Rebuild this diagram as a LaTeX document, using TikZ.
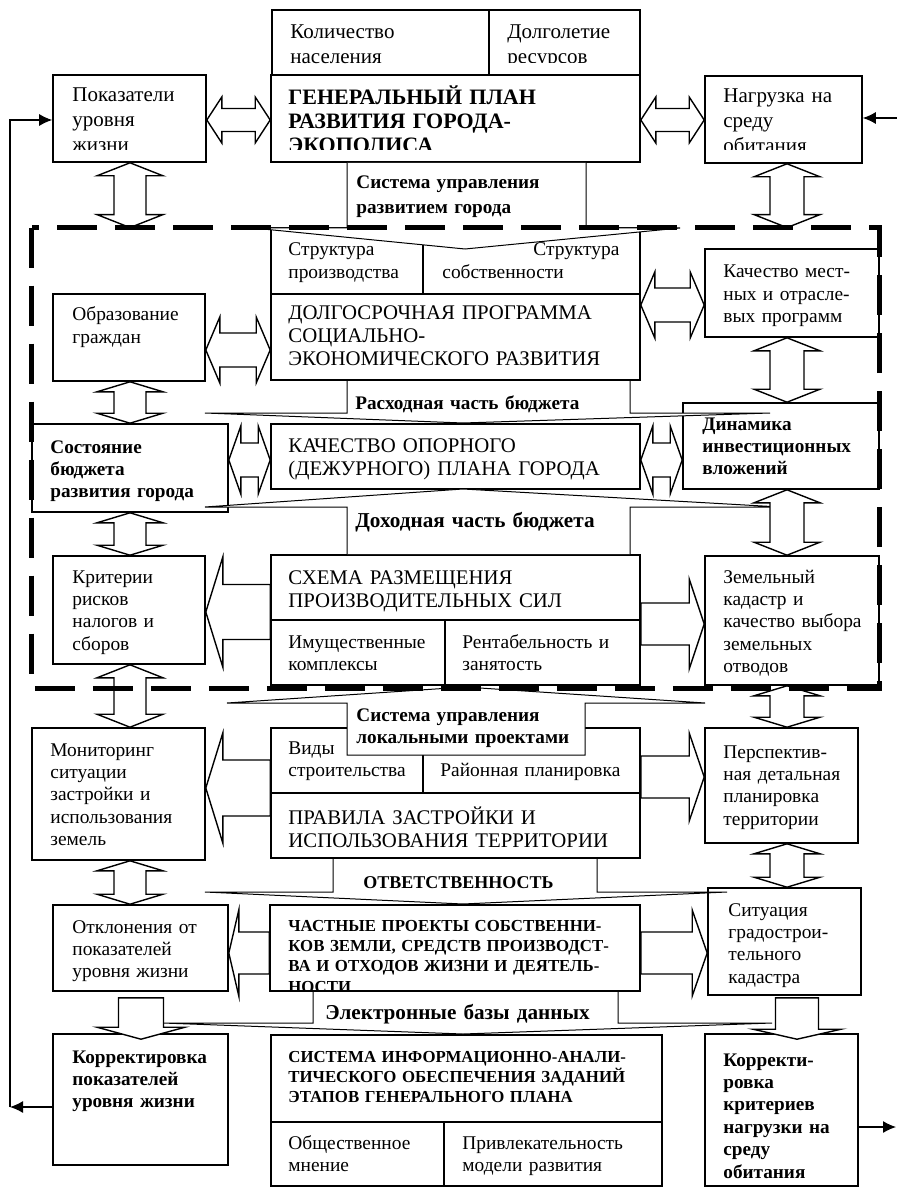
\documentclass[tikz,border=0pt]{standalone}
\usepackage{fontspec}
\setmainfont{Liberation Serif}
\usetikzlibrary{%
    calc,%
    fit,%
    arrows.meta%
}

\tikzset{
	box/.style={draw, line width=0.8pt, inner sep=0pt},
	frm/.style={draw, line width=2.4pt, dash pattern=on 20pt off 9pt},
	blk/.style={draw, fill=white, line width=0.7pt},
	fun/.style={draw, fill=white, line width=0.5pt},
	txt/.style={anchor=base west, inner sep=0pt, text width=190pt, align=left, font=\fontsize{9.7}{11.2}\selectfont},
	txtw/.style={txt, font=\fontsize{10.5}{12.4}\selectfont},
	ctxt/.style={txt, font=\fontsize{10.4}{11.5}\selectfont},
	btxt/.style={txt, font=\fontsize{9.6}{11.2}\selectfont\bfseries},
	btxtw/.style={txt, font=\fontsize{9.6}{12.4}\selectfont\bfseries},
	stxt/.style={txt, font=\fontsize{8.4}{10.2}\selectfont\bfseries},
	fb/.style={line width=0.6pt, -{Latex[length=6.5pt,width=6pt]}}
}

% block arrows: #1 from, #2 to, #3 shaft half width, #4 head half width, #5 head length
\newcommand{\dblh}[5]{%
	\draw[blk] let \p1=#1, \p2=#2 in
		(\p1) -- ++(#5,-#4) -- ++(0,#4-#3) -- ($(\p2)+(-#5,-#3)$) -- ++(0,#3-#4)
		-- (\p2) -- ++(-#5,#4) -- ++(0,#3-#4) -- ($(\p1)+(#5,#3)$) -- ++(0,#4-#3) -- cycle;}
\newcommand{\dblv}[5]{%
	\draw[blk] let \p1=#1, \p2=#2 in
		(\p1) -- ++(#4,#5) -- ++(#3-#4,0) -- ($(\p2)+(#3,-#5)$) -- ++(#4-#3,0)
		-- (\p2) -- ++(-#4,-#5) -- ++(#4-#3,0) -- ($(\p1)+(-#3,#5)$) -- ++(#3-#4,0) -- cycle;}
\newcommand{\blkh}[5]{%
	\draw[blk] let \p1=#1, \p2=#2 in
		($(\p1)+(0,-#3)$) -- ($(\p2)+({-(#5)},-#3)$) -- ++(0,#3-#4) -- (\p2)
		-- ++({-(#5)},#4) -- ++(0,#3-#4) -- ($(\p1)+(0,#3)$) -- cycle;}
\newcommand{\blkv}[5]{%
	\draw[blk] let \p1=#1, \p2=#2 in
		($(\p1)+(-#3,0)$) -- ($(\p2)+(-#3,-#5)$) -- ++(#3-#4,0) -- (\p2)
		-- ++(#4,-#5) -- ++(#3-#4,0) -- ($(\p1)+(#3,0)$) -- cycle;}

\begin{document}
\begin{tikzpicture}[x=0.5pt, y=-0.5pt]

	\path[use as bounding box, fill=white] (0,0) rectangle (897,1187);
	\path node[inner sep=0pt, fit={(32,228) (879,688)}] (fr) {};

	% boxes
	\node[box, fit={(272,10) (489,75)}] (kol) {};
	\node[box, fit={(489,10) (640,75)}] (dolg) {};
	\node[box, fit={(271,75) (640,162)}] (gen) {};
	\node[box, fit={(53,75) (206,162)}] (pok) {};
	\node[box, fit={(705,76) (862,163)}] (nagr) {};
	\node[box, fit={(271,228) (423,294)}] (strp) {};
	\node[box, fit={(423,228) (640,294)}] (strs) {};
	\node[box, fit={(271,294) (640,380)}] (dolgo) {};
	\node[box, fit={(53,294) (205,381)}] (obr) {};
	\node[box, fit={(705,249) (879,337)}] (kachm) {};
	\node[box, fit={(32,424) (228,512)}] (sost) {};
	\node[box, fit={(271,424) (640,489)}] (kach) {};
	\node[box, fit={(683,403) (879,489)}] (din) {};
	\node[box, fit={(53,556) (205,664)}] (krit) {};
	\node[box, fit={(271,555) (640,620)}] (shema) {};
	\node[box, fit={(271,620) (445,685)}] (imu) {};
	\node[box, fit={(445,620) (640,685)}] (rent) {};
	\node[box, fit={(705,556) (879,685)}] (zem) {};
	\node[box, fit={(32,728) (205,860)}] (mon) {};
	\node[box, fit={(271,728) (423,793)}] (vidy) {};
	\node[box, fit={(423,728) (640,793)}] (raion) {};
	\node[box, fit={(271,793) (640,858)}] (prav) {};
	\node[box, fit={(705,728) (858,843)}] (persp) {};
	\node[box, fit={(53,905) (228,991)}] (otkl) {};
	\node[box, fit={(270,905) (640,991)}] (chast) {};
	\node[box, fit={(708,888) (861,995)}] (sit) {};
	\node[box, fit={(53,1034) (228,1165)}] (korl) {};
	\node[box, fit={(271,1035) (662,1122)}] (sist) {};
	\node[box, fit={(271,1122) (444,1186)}] (obsh) {};
	\node[box, fit={(444,1122) (662,1186)}] (priv) {};
	\node[box, fit={(705,1034) (858,1186)}] (korr) {};

	% flows down the middle column
	\draw[fun] (347,163) -- (347,228) -- (253,228) -- (465,249) -- (680,228) -- (586,228) -- (586,163);
	\draw[fun] (347,381) -- (347,413) -- (205,413) -- (463,423) -- (770,413) -- (630,413) -- (630,381);
	\draw[fun] (347,554) -- (347,507) -- (205,507) -- (463,489) -- (780,507) -- (630,507) -- (630,554);
	\draw[fun] (347,755) -- (347,703) -- (227,703) -- (465,687) -- (705,703) -- (585,703) -- (585,755) -- cycle;
	\draw[fun] (333,859) -- (333,892) -- (205,892) -- (463,904) -- (727,892) -- (597,892) -- (597,859);
	\draw[fun] (313,992) -- (313,1023) -- (163,1023) -- (463,1034) -- (772,1023) -- (618,1023) -- (618,992);

	% two-way links
	\dblh{(pok.east |- 0,120)}{(gen.west |- 0,120)}{11.5}{23}{15}
	\dblh{(gen.east |- 0,120)}{(nagr.west |- 0,120)}{11.5}{23}{15}
	\dblh{(obr.east |- 0,350)}{(dolgo.west |- 0,350)}{17}{33}{14}
	\dblh{(dolgo.east |- 0,305)}{(kachm.west |- 0,305)}{17}{33}{14}
	\dblh{(sost.east |- 0,460)}{(kach.west |- 0,460)}{17}{34}{12}
	\dblh{(kach.east |- 0,460)}{(din.west |- 0,460)}{17}{34}{12}
	\dblv{(pok.south -| 130,0)}{(fr.north -| 130,0)}{16}{33}{13}
	\dblv{(nagr.south -| 787,0)}{(fr.north -| 787,0)}{17}{33}{13}
	\dblv{(obr.south -| 130,0)}{(sost.north -| 130,0)}{16}{33}{10}
	\dblv{(kachm.south -| 787,0)}{(din.north -| 787,0)}{17}{33}{13}
	\dblv{(sost.south -| 130,0)}{(krit.north -| 130,0)}{16}{33}{10}
	\dblv{(din.south -| 787,0)}{(zem.north -| 787,0)}{17}{33}{13}
	\dblv{(krit.south -| 130,0)}{(mon.north -| 130,0)}{16}{33}{13}
	\dblv{(zem.south -| 787,0)}{(persp.north -| 787,0)}{17}{33}{10}
	\dblv{(mon.south -| 130,0)}{(otkl.north -| 130,0)}{16}{33}{10}
	\dblv{(persp.south -| 787,0)}{(sit.north -| 787,0)}{17}{33}{10}

	% one-way links
	\blkh{(shema.west |- 0,612)}{(krit.east |- 0,612)}{27.5}{55}{-17}
	\blkh{(shema.east |- 0,624)}{(zem.west |- 0,624)}{21}{45}{15}
	\blkh{(prav.west |- 0,788)}{(mon.east |- 0,788)}{28}{55}{-17}
	\blkh{(prav.east |- 0,777)}{(persp.west |- 0,777)}{21}{44}{15}
	\blkh{(chast.west |- 0,953)}{(otkl.east |- 0,953)}{21}{43}{-10}
	\blkh{(chast.east |- 0,953)}{(sit.west |- 0,953)}{21}{43}{15}
	\blkv{($(otkl.south -| 141,0)+(0,6)$)}{($(korl.north -| 141,0)+(0,6)$)}{22.5}{44}{12}
	\blkv{($(sit.south -| 797,0)+(0,2)$)}{($(korr.north -| 797,0)+(0,6)$)}{21.5}{44}{10}

	% feedback lines
	\coordinate (lb) at (10,1107);
	\coordinate (lt) at (10,120);
	\coordinate (rin) at (897,118);
	\coordinate (rout) at (896,1127);
	\draw[fb] (korl.west |- lb) -- (lb);
	\draw[fb] (lb) -- (lt) -- (pok.west |- lt);
	\draw[fb] (rin) -- (nagr.east |- rin);
	\draw[fb] (korr.east |- rout) -- (rout);

	% dashed frame
	\draw[frm] (fr.north west) rectangle (fr.south east);

	% texts
	\node[txtw] (kol-t) at (290,39) {Количество\\населения};
	\begin{scope}
		\clip (489,10) rectangle (640,63);
		\node[txtw] (dolg-t) at (507,39) {Долголетие\\ресурсов};
	\end{scope}
	\begin{scope}
		\clip (271,75) rectangle (640,150);
		\node[txt, font=\fontsize{11}{11.9}\selectfont\bfseries] (gen-t) at (288,105) {ГЕНЕРАЛЬНЫЙ ПЛАН\\РАЗВИТИЯ ГОРОДА-\\ЭКОПОЛИСА};
	\end{scope}
	\begin{scope}
		\clip (53,75) rectangle (206,150);
		\node[txtw] (pok-t) at (72,102) {Показатели\\уровня\\жизни};
	\end{scope}
	\begin{scope}
		\clip (705,76) rectangle (862,150);
		\node[txtw] (nagr-t) at (723,103) {Нагрузка на\\среду\\обитания};
	\end{scope}
	\node[btxtw] (upr-t) at (356,189) {Система управления\\развитием города};
	\node[txt] (strp-t) at (288,256) {Структура\\производства};
	\node[txt] (strs-t) at (442,256) {\hspace*{45.5pt}Структура\\собственности};
	\node[ctxt] (dolgo-t) at (288,320) {ДОЛГОСРОЧНАЯ ПРОГРАММА\\СОЦИАЛЬНО-\\ЭКОНОМИЧЕСКОГО РАЗВИТИЯ};
	\node[txt] (obr-t) at (72,321) {Образование\\граждан};
	\node[txt] (kachm-t) at (723,278) {Качество мест-\\ных и отрасле-\\вых программ};
	\node[btxt] (rash-t) at (355,409) {Расходная часть бюджета};
	\node[btxt] (sost-t) at (50,453) {Состояние\\бюджета\\развития города};
	\node[ctxt] (kach-t) at (288,452) {КАЧЕСТВО ОПОРНОГО\\(ДЕЖУРНОГО) ПЛАНА ГОРОДА};
	\node[btxt] (din-t) at (702,430) {Динамика\\инвестиционных\\вложений};
	\node[btxt, font=\fontsize{10.6}{12}\selectfont\bfseries] (doh-t) at (355,527) {Доходная часть бюджета};
	\node[txt] (krit-t) at (72,583) {Критерии\\рисков\\налогов и\\сборов};
	\node[ctxt] (shema-t) at (288,584) {СХЕМА РАЗМЕЩЕНИЯ\\ПРОИЗВОДИТЕЛЬНЫХ СИЛ};
	\node[txt] (imu-t) at (288,648) {Имущественные\\комплексы};
	\node[txt] (rent-t) at (462,648) {Рентабельность и\\занятость};
	\node[txt] (zem-t) at (723,583) {Земельный\\кадастр и\\качество выбора\\земельных\\отводов};
	\node[btxt] (lok-t) at (356,721) {Система управления\\локальными проектами};
	\node[txt] (vidy-t) at (288,754) {Виды\\строительства};
	\node[txt] (raion-t) at (440,776) {Районная планировка};
	\node[ctxt] (prav-t) at (288,824) {ПРАВИЛА ЗАСТРОЙКИ И\\ИСПОЛЬЗОВАНИЯ ТЕРРИТОРИИ};
	\node[txt] (mon-t) at (50,756) {Мониторинг\\ситуации\\застройки и\\использования\\земель};
	\node[txt] (persp-t) at (723,758) {Перспектив-\\ная детальная\\планировка\\территории};
	\node[btxt, font=\fontsize{9}{11}\selectfont\bfseries] (otv-t) at (363,888) {ОТВЕТСТВЕННОСТЬ};
	\node[txt] (otkl-t) at (72,933) {Отклонения от\\показателей\\уровня жизни};
	\begin{scope}
		\clip (270,905) rectangle (640,989);
		\node[stxt] (chast-t) at (288,931) {ЧАСТНЫЕ ПРОЕКТЫ СОБСТВЕННИ-\\КОВ ЗЕМЛИ, СРЕДСТВ ПРОИЗВОДСТ-\\ВА И ОТХОДОВ ЖИЗНИ И ДЕЯТЕЛЬ-\\НОСТИ};
	\end{scope}
	\node[txt] (sit-t) at (728,916) {Ситуация\\градострои-\\тельного\\кадастра};
	\node[btxt, font=\fontsize{10.6}{12}\selectfont\bfseries] (el-t) at (325,1019) {Электронные базы данных};
	\node[stxt] (sist-t) at (288,1062) {СИСТЕМА ИНФОРМАЦИОННО-АНАЛИ-\\ТИЧЕСКОГО ОБЕСПЕЧЕНИЯ ЗАДАНИЙ\\ЭТАПОВ ГЕНЕРАЛЬНОГО ПЛАНА};
	\node[txt] (obsh-t) at (288,1149) {Общественное\\мнение};
	\node[txt] (priv-t) at (462,1149) {Привлекательность\\модели развития};
	\node[btxt] (korl-t) at (72,1063) {Корректировка\\показателей\\уровня жизни};
	\node[btxt] (korr-t) at (723,1066) {Корректи-\\ровка\\критериев\\нагрузки на\\среду\\обитания};

\end{tikzpicture}
\end{document}
